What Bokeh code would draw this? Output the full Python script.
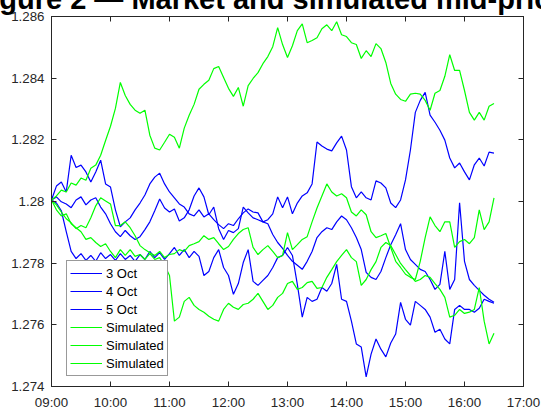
from bokeh.plotting import figure
from bokeh.models import (Range1d, FixedTicker, LinearAxis, NumeralTickFormatter,
                          Legend, LegendItem, ColumnDataSource)
from bokeh.embed import file_html
from bokeh.resources import INLINE

# time grid: minutes after 09:00, every 5 minutes up to 16:30
minutes = list(range(0, 455, 5))

oct3 = [1.28005,1.28050,1.28063,1.28031,1.28150,1.28110,1.28118,1.28096,1.28063,1.28096,
        1.28134,1.28057,1.28047,1.27973,1.27918,1.27934,1.27947,1.27973,1.27995,1.28021,
        1.28057,1.28079,1.28092,1.28057,1.28031,1.28012,1.27992,1.27982,1.27960,1.27953,
        1.27973,1.27950,1.27960,1.27941,1.27925,1.27912,1.27928,1.27922,1.27944,1.27963,
        1.27976,1.27966,1.27963,1.27934,1.27941,1.27960,1.28015,1.27980,1.28015,1.27960,
        1.27995,1.28018,1.28028,1.28057,1.28193,1.28180,1.28170,1.28164,1.28190,1.28212,
        1.28167,1.28048,1.28012,1.28031,1.28012,1.28005,1.28067,1.28060,1.28044,1.27995,
        1.27980,1.28005,1.28070,1.28167,1.28289,1.28328,1.28354,1.28280,1.28257,1.28231,
        1.28199,1.28141,1.28109,1.28125,1.28096,1.28070,1.28119,1.28141,1.28115,1.28160,
        1.28157]

oct4 = [1.28005,1.28015,1.27999,1.27992,1.27980,1.28005,1.28015,1.27989,1.28005,1.28012,
        1.27982,1.27960,1.27928,1.27902,1.27886,1.27906,1.27889,1.27877,1.27886,1.27909,
        1.27934,1.27970,1.28008,1.27979,1.27966,1.27976,1.27937,1.27947,1.27973,1.28018,
        1.28044,1.28015,1.27957,1.27982,1.27912,1.27877,1.27906,1.27899,1.27912,1.27982,
        1.27963,1.27947,1.27941,1.27934,1.27928,1.27893,1.27867,1.27848,1.27825,1.27806,
        1.27793,1.27780,1.27806,1.27838,1.27883,1.27902,1.27915,1.27909,1.27934,1.27953,
        1.27941,1.27915,1.27883,1.27844,1.27770,1.27754,1.27747,1.27773,1.27818,1.27860,
        1.27892,1.27928,1.27844,1.27812,1.27796,1.27780,1.27773,1.27747,1.27715,1.27731,
        1.27838,1.27715,1.27747,1.27996,1.27806,1.27747,1.27728,1.27712,1.27696,1.27683,
        1.27673]

oct5 = [1.28005,1.27995,1.27970,1.27902,1.27838,1.27815,1.27831,1.27809,1.27825,1.27806,
        1.27834,1.27815,1.27828,1.27809,1.27831,1.27812,1.27825,1.27806,1.27828,1.27812,
        1.27838,1.27818,1.27834,1.27812,1.27831,1.27851,1.27825,1.27844,1.27818,1.27838,
        1.27822,1.27760,1.27773,1.27818,1.27844,1.27786,1.27760,1.27699,1.27734,1.27802,
        1.27844,1.27741,1.27728,1.27744,1.27760,1.27786,1.27818,1.27825,1.27851,1.27825,
        1.27731,1.27625,1.27689,1.27676,1.27683,1.27721,1.27709,1.27734,1.27796,1.27683,
        1.27676,1.27612,1.27538,1.27528,1.27431,1.27505,1.27554,1.27521,1.27496,1.27541,
        1.27570,1.27673,1.27618,1.27599,1.27676,1.27663,1.27650,1.27625,1.27576,1.27586,
        1.27554,1.27538,1.27650,1.27663,1.27650,1.27650,1.27641,1.27654,1.27683,1.27676,
        1.27670]

sim1 = [1.28005,1.28018,1.28037,1.28031,1.28060,1.28053,1.28076,1.28069,1.28108,1.28118,
        1.28150,1.28198,1.28244,1.28302,1.28386,1.28344,1.28315,1.28296,1.28286,1.28296,
        1.28215,1.28173,1.28167,1.28192,1.28218,1.28208,1.28173,1.28238,1.28280,1.28315,
        1.28364,1.28380,1.28393,1.28431,1.28438,1.28402,1.28367,1.28341,1.28370,1.28309,
        1.28376,1.28399,1.28418,1.28447,1.28470,1.28502,1.28564,1.28509,1.28467,1.28505,
        1.28554,1.28576,1.28515,1.28522,1.28531,1.28560,1.28573,1.28554,1.28583,1.28541,
        1.28535,1.28515,1.28509,1.28464,1.28489,1.28470,1.28512,1.28496,1.28451,1.28383,
        1.28348,1.28331,1.28325,1.28348,1.28351,1.28348,1.28328,1.28296,1.28351,1.28360,
        1.28406,1.28476,1.28425,1.28425,1.28360,1.28289,1.28264,1.28289,1.28264,1.28309,
        1.28318]

sim2 = [1.28005,1.27989,1.27966,1.27944,1.27931,1.27912,1.27922,1.27915,1.27947,1.27986,
        1.28012,1.28002,1.27992,1.27922,1.27922,1.27934,1.27915,1.27889,1.27857,1.27844,
        1.27834,1.27825,1.27838,1.27818,1.27828,1.27831,1.27844,1.27838,1.27857,1.27863,
        1.27870,1.27889,1.27877,1.27883,1.27863,1.27844,1.27854,1.27877,1.27896,1.27909,
        1.27915,1.27851,1.27828,1.27844,1.27857,1.27838,1.27818,1.27825,1.27899,1.27844,
        1.27860,1.27877,1.27886,1.27934,1.27979,1.28018,1.28057,1.28031,1.28018,1.28025,
        1.28012,1.27966,1.27953,1.27973,1.27957,1.27902,1.27883,1.27889,1.27896,1.27851,
        1.27806,1.27786,1.27764,1.27754,1.27747,1.27806,1.27883,1.27950,1.27922,1.27902,
        1.27934,1.27934,1.27851,1.27870,1.27877,1.27863,1.27883,1.27973,1.27909,1.27934,
        1.28012]

sim3 = [1.28005,1.27973,1.27953,1.27960,1.27928,1.27915,1.27902,1.27877,1.27883,1.27867,
        1.27854,1.27863,1.27838,1.27818,1.27844,1.27825,1.27844,1.27822,1.27828,1.27812,
        1.27831,1.27812,1.27818,1.27793,1.27760,1.27612,1.27625,1.27676,1.27689,1.27663,
        1.27650,1.27641,1.27628,1.27618,1.27612,1.27650,1.27670,1.27657,1.27650,1.27666,
        1.27670,1.27683,1.27702,1.27676,1.27650,1.27663,1.27689,1.27702,1.27734,1.27741,
        1.27715,1.27721,1.27737,1.27741,1.27718,1.27721,1.27754,1.27779,1.27805,1.27825,
        1.27844,1.27818,1.27805,1.27728,1.27747,1.27779,1.27805,1.27851,1.27867,1.27857,
        1.27828,1.27799,1.27779,1.27760,1.27741,1.27747,1.27760,1.27754,1.27734,1.27715,
        1.27689,1.27625,1.27631,1.27650,1.27637,1.27641,1.27650,1.27721,1.27612,1.27538,
        1.27573]

x_ticks = [9, 10, 11, 12, 13, 14, 15, 16, 17]
x_tick_labels = ["09:00", "10:00", "11:00", "12:00", "13:00", "14:00", "15:00", "16:00", "17:00"]
y_ticks = [1.274, 1.276, 1.278, 1.280, 1.282, 1.284, 1.286]

market_names = ["3 Oct", "4 Oct", "5 Oct"]
sim_name = "Simulated"
title_text = "Figure 2 \u2014 Market and simulated mid-prices"

FONT = "Liberation Sans"
AX = "#262626"

hours = [9 + m / 60.0 for m in minutes]

p = figure(width=541, height=412, output_backend="svg", toolbar_location=None,
           x_range=Range1d(9, 17), y_range=Range1d(1.274, 1.286),
           min_border_left=51, min_border_right=18, min_border_top=16, min_border_bottom=24)
p.xgrid.visible = False
p.ygrid.visible = False
p.outline_line_color = AX
p.background_fill_color = "white"
p.border_fill_color = "white"

def style_axis(ax, show_labels):
    ax.axis_line_color = AX
    ax.major_tick_line_color = AX
    ax.major_tick_in = 5
    ax.major_tick_out = 0
    ax.minor_tick_line_color = None
    ax.major_label_text_font = FONT
    ax.major_label_text_color = AX
    if show_labels:
        ax.major_label_text_font_size = "13.3px"
    else:
        ax.major_label_text_font_size = "0px"
        ax.major_label_standoff = 0

xt = FixedTicker(ticks=x_ticks)
yt = FixedTicker(ticks=y_ticks)
overrides = {t: l for t, l in zip(x_ticks, x_tick_labels)}

p.xaxis.ticker = xt
p.xaxis.major_label_overrides = overrides
p.yaxis.ticker = yt
p.yaxis.formatter = NumeralTickFormatter(format="0.[000]")
style_axis(p.xaxis[0], True)
style_axis(p.yaxis[0], True)
p.xaxis.major_label_standoff = 8
p.yaxis.major_label_standoff = 7

top = LinearAxis(ticker=FixedTicker(ticks=x_ticks))
style_axis(top, False)
p.add_layout(top, "above")
right = LinearAxis(ticker=FixedTicker(ticks=y_ticks))
style_axis(right, False)
p.add_layout(right, "right")

renderers = []
for vals in [oct3, oct4, oct5]:
    src = ColumnDataSource(dict(x=hours, y=vals))
    renderers.append(p.line("x", "y", source=src, line_color="#0000ff", line_width=1.2))
for vals in [sim1, sim2, sim3]:
    src = ColumnDataSource(dict(x=hours, y=vals))
    renderers.append(p.line("x", "y", source=src, line_color="#00ff00", line_width=1.2))

labels = market_names + [sim_name] * 3
items = [LegendItem(label=l, renderers=[r]) for l, r in zip(labels, renderers)]
legend = Legend(items=items, location=(15, 10), orientation="vertical",
                label_text_font=FONT, label_text_font_size="13px", label_text_color="black",
                glyph_width=32, glyph_height=18, label_height=18, label_standoff=4,
                spacing=0, padding=3, margin=0,
                border_line_color="#333333", border_line_width=1,
                background_fill_color="white", background_fill_alpha=1)
p.add_layout(legend, "center")

# title: sits mostly above the window's top edge, as in the reference
p.title.text = title_text + "\n "
p.title.text_font = FONT
p.title.text_font_size = "29px"
p.title.text_font_style = "bold"
p.title.text_color = "black"
p.title.align = "left"
p.title.offset = -78
p.title.vertical_align = "middle"
p.title.standoff = -62
p.title.level = "overlay"

open("out.html", "w").write(file_html(p, INLINE))
